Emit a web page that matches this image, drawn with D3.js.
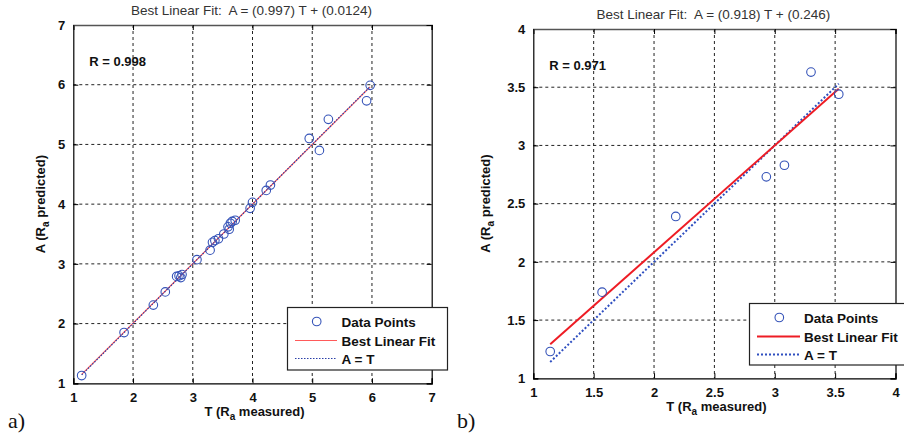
<!DOCTYPE html>
<html><head><meta charset="utf-8">
<script src="https://cdn.jsdelivr.net/npm/d3@7"></script>
<style>body{margin:0;background:#fff}svg{display:block}text{white-space:pre}</style>
</head><body><svg id="c" width="904" height="434"></svg>
<script>
// ---- data: panel a ----
const tA = [1.14, 1.85, 2.34, 2.54, 2.73, 2.77, 2.80, 2.82, 3.07, 3.29, 3.33, 3.37, 3.43, 3.52, 3.59, 3.61, 3.63, 3.66, 3.71, 3.96, 4.00, 4.23, 4.30, 4.95, 5.12, 5.27, 5.91, 5.97];
const aA = [1.13, 1.85, 2.31, 2.53, 2.79, 2.80, 2.77, 2.82, 3.07, 3.23, 3.36, 3.39, 3.42, 3.50, 3.62, 3.58, 3.68, 3.71, 3.73, 3.93, 4.03, 4.23, 4.32, 5.10, 4.90, 5.42, 5.73, 5.99];
const fitA = [0.997, 0.0124];
const rA = "R = 0.998";
const ticksA = [1, 2, 3, 4, 5, 6, 7];
// ---- data: panel b ----
const tB = [1.14, 1.57, 2.18, 2.93, 3.08, 3.30, 3.53];
const aB = [1.23, 1.74, 2.39, 2.73, 2.83, 3.63, 3.44];
const fitB = [0.918, 0.246];
const rB = "R = 0.971";
const ticksB = [1, 1.5, 2, 2.5, 3, 3.5, 4];
const titleA = "Best Linear Fit:  A = (0.997) T + (0.0124)";
const titleB = "Best Linear Fit:  A = (0.918) T + (0.246)";
const legendLabels = ["Data Points", "Best Linear Fit", "A = T"];
const panelLabels = ["a)", "b)"];

const svg = d3.select("#c");
const FONT = "'Liberation Sans', Arial, sans-serif";
const BLUE = "#3553b8";

function panel(o) {
  const x = d3.scaleLinear().domain([o.ticks[0], o.ticks[o.ticks.length-1]]).range([o.x0, o.x1]);
  const y = d3.scaleLinear().domain([o.ticks[0], o.ticks[o.ticks.length-1]]).range([o.y1, o.y0]);
  const g = svg.append("g");
  const inner = o.ticks.slice(1, -1);
  // grid
  g.selectAll(".gx").data(inner).join("line")
    .attr("x1", d => x(d)).attr("x2", d => x(d)).attr("y1", o.y0).attr("y2", o.y1)
    .attr("stroke", "#222").attr("stroke-width", 1).attr("stroke-dasharray", "3,3");
  g.selectAll(".gy").data(inner).join("line")
    .attr("y1", d => y(d)).attr("y2", d => y(d)).attr("x1", o.x0).attr("x2", o.x1)
    .attr("stroke", "#222").attr("stroke-width", 1).attr("stroke-dasharray", "3,3");
  // axes with inward ticks
  const fmt = d3.format("");
  const axB = d3.axisBottom(x).tickValues(o.ticks).tickSize(-5).tickPadding(9).tickFormat(fmt);
  const axL = d3.axisLeft(y).tickValues(o.ticks).tickSize(-5).tickPadding(8).tickFormat(fmt);
  const axT = d3.axisTop(x).tickValues(o.ticks).tickSize(-5).tickFormat("");
  const axR = d3.axisRight(y).tickValues(o.ticks).tickSize(-5).tickFormat("");
  const gb = g.append("g").attr("transform", `translate(0,${o.y1})`).call(axB);
  const gl = g.append("g").attr("transform", `translate(${o.x0},0)`).call(axL);
  const gt = g.append("g").attr("transform", `translate(0,${o.y0})`).call(axT);
  const gr = g.append("g").attr("transform", `translate(${o.x1},0)`).call(axR);
  [gb, gl, gt, gr].forEach(a => {
    a.selectAll("path").attr("stroke", "#000").attr("stroke-width", 1.2);
    a.selectAll("line").attr("stroke", "#000");
    a.selectAll("text").attr("font-family", FONT).attr("font-size", 13).attr("font-weight", "bold").attr("fill", "#111");
  });
  gt.select("path").attr("stroke", "#555").attr("stroke-width", 1.6);
  // lines
  const lo = d3.min(o.t), hi = d3.max(o.t);
  const drawIdent = () => g.append("line").attr("x1", x(lo)).attr("y1", y(lo)).attr("x2", x(hi)).attr("y2", y(hi))
    .attr("stroke", o.blueLine).attr("stroke-width", o.lw).attr("stroke-dasharray", o.dots);
  const drawFit = () => g.append("line").attr("x1", x(lo)).attr("y1", y(o.fit[0]*lo+o.fit[1])).attr("x2", x(hi)).attr("y2", y(o.fit[0]*hi+o.fit[1]))
    .attr("stroke", o.red).attr("stroke-width", o.lw);
  if (o.blueOnTop) { drawFit(); drawIdent(); } else { drawIdent(); drawFit(); }
  // points
  g.selectAll("circle.p").data(o.t.map((t, i) => [t, o.a[i]])).join("circle")
    .attr("cx", d => x(d[0])).attr("cy", d => y(d[1])).attr("r", 4.3)
    .attr("fill", "none").attr("stroke", BLUE).attr("stroke-width", 1.1);
  // R text
  g.append("text").attr("x", o.x0 + 16).attr("y", o.y0 + 41).text(o.r)
    .attr("font-family", FONT).attr("font-size", 13).attr("font-weight", "bold").attr("fill", "#111");
  // title
  g.append("text").attr("x", (o.x0 + o.x1) / 2 - 1).attr("y", o.y0 - 10).attr("text-anchor", "middle").text(o.title)
    .attr("font-family", FONT).attr("font-size", 13.5).attr("fill", "#333").attr("xml:space", "preserve");
  // x label
  const xl = g.append("text").attr("x", (o.x0 + o.x1) / 2 + 2).attr("y", o.y1 + 33).attr("text-anchor", "middle")
    .attr("font-family", FONT).attr("font-size", 13).attr("font-weight", "bold").attr("fill", "#111");
  xl.append("tspan").text("T (R");
  xl.append("tspan").attr("dy", 4).attr("font-size", 10).text("a");
  xl.append("tspan").attr("dy", -4).text(" measured)");
  // y label
  const cy = (o.y0 + o.y1) / 2;
  const yl = g.append("text").attr("transform", `translate(${o.ylx},${cy}) rotate(-90)`).attr("text-anchor", "middle")
    .attr("font-family", FONT).attr("font-size", 13).attr("font-weight", "bold").attr("fill", "#111");
  yl.append("tspan").text("A (R");
  yl.append("tspan").attr("dy", 4).attr("font-size", 10).text("a");
  yl.append("tspan").attr("dy", -4).text(" predicted)");
  // legend
  const L = o.leg;
  g.append("rect").attr("x", L.x).attr("y", L.y).attr("width", L.w).attr("height", L.h)
    .attr("fill", "#fff").attr("stroke", "#222").attr("stroke-width", 1.2);
  const rows = [L.y + 14, L.y + 33, L.y + 51];
  g.append("circle").attr("cx", L.mx).attr("cy", rows[0]).attr("r", 4.3).attr("fill", "none").attr("stroke", BLUE).attr("stroke-width", 1.1);
  g.append("line").attr("x1", L.l0).attr("x2", L.l1).attr("y1", rows[1]).attr("y2", rows[1]).attr("stroke", o.red).attr("stroke-width", o.lw);
  g.append("line").attr("x1", L.l0).attr("x2", L.l1).attr("y1", rows[2]).attr("y2", rows[2]).attr("stroke", o.blueLine).attr("stroke-width", o.lw).attr("stroke-dasharray", o.dots);
  g.selectAll("text.lg").data(legendLabels).join("text").attr("x", L.tx).attr("y", (d, i) => rows[i] + 5).text(d => d)
    .attr("font-family", FONT).attr("font-size", 13.5).attr("font-weight", "bold").attr("fill", "#111");
  // panel label
  g.append("text").attr("x", o.plx).attr("y", 428).text(o.pl)
    .attr("font-family", "'Liberation Serif', 'Times New Roman', serif").attr("font-size", 22).attr("fill", "#111");
}

panel({ t: tA, a: aA, fit: fitA, r: rA, ticks: ticksA, title: titleA,
  x0: 73.3, x1: 431.7, y0: 25, y1: 383.3, ylx: 45, blueOnTop: true,
  red: "#ff5a5a", blueLine: "#2a3fa8", lw: 1.2, dots: "1.5,1.5",
  leg: { x: 287.5, y: 307.5, w: 160, h: 62.5, mx: 316.7, l0: 295, l1: 337, tx: 341.5 },
  pl: panelLabels[0], plx: 8 });
panel({ t: tB, a: aB, fit: fitB, r: rB, ticks: ticksB, title: titleB,
  x0: 533.3, x1: 895.5, y0: 29, y1: 378.3, ylx: 490, blueOnTop: false,
  red: "#ee1c24", blueLine: "#2f4fc0", lw: 2, dots: "2,2",
  leg: { x: 749.5, y: 303.5, w: 170, h: 61.5, mx: 779.3, l0: 757, l1: 800, tx: 804 },
  pl: panelLabels[1], plx: 457 });
</script></body></html>
